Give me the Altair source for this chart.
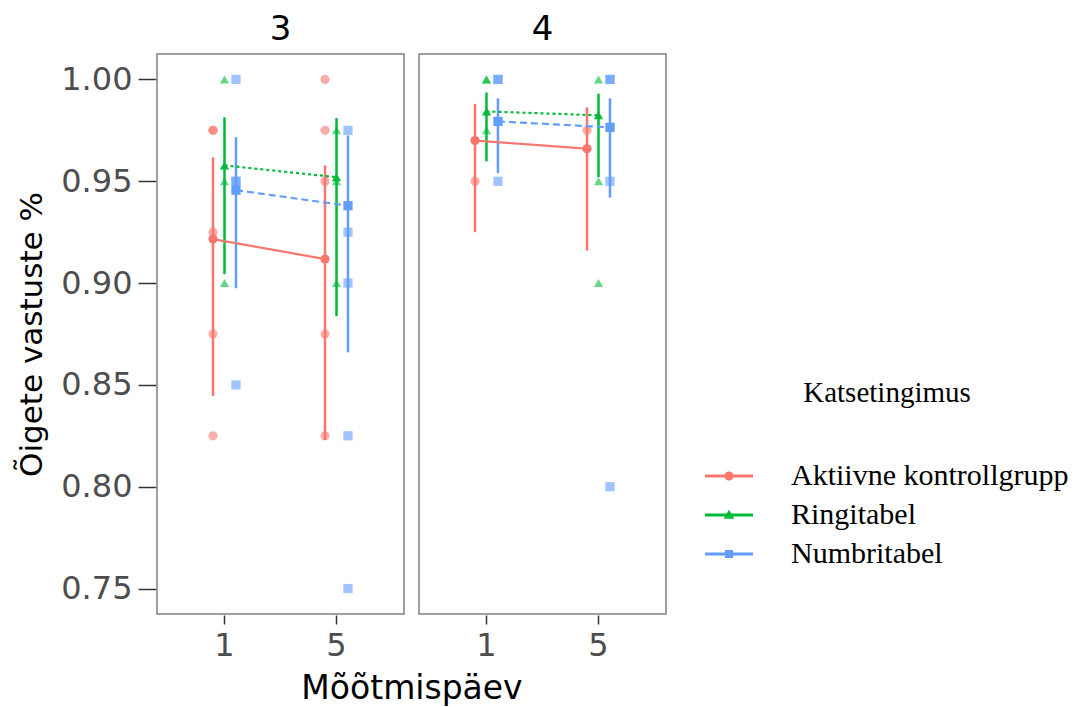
import altair as alt
import pandas as pd

groups = ["Aktiivne kontrollgrupp", "Ringitabel", "Numbritabel"]
panels = ["3", "4"]
days = ["1", "5"]
colors = ["#F8766D", "#00BA38", "#619CFF"]
shapes = ["circle", "triangle-up", "square"]
dashes = [[1, 0], [3, 3], [7, 4]]

# raw observations: (panel, day, group) -> values
raw = {
    ("3", "1", "Aktiivne kontrollgrupp"): [0.975, 0.975, 0.925, 0.875, 0.825],
    ("3", "1", "Ringitabel"): [1.00, 0.95, 0.90],
    ("3", "1", "Numbritabel"): [1.00, 0.95, 0.95, 0.85],
    ("3", "5", "Aktiivne kontrollgrupp"): [1.00, 0.975, 0.95, 0.875, 0.825],
    ("3", "5", "Ringitabel"): [0.975, 0.95, 0.90],
    ("3", "5", "Numbritabel"): [0.975, 0.925, 0.90, 0.825, 0.75],
    ("4", "1", "Aktiivne kontrollgrupp"): [0.95],
    ("4", "1", "Ringitabel"): [1.00, 1.00, 0.975],
    ("4", "1", "Numbritabel"): [1.00, 1.00, 0.95],
    ("4", "5", "Aktiivne kontrollgrupp"): [0.975],
    ("4", "5", "Ringitabel"): [1.00, 0.95, 0.90],
    ("4", "5", "Numbritabel"): [1.00, 1.00, 0.95, 0.80],
}

# means with interval: (panel, day, group) -> (mean, low, high)
means = {
    ("3", "1", "Aktiivne kontrollgrupp"): (0.9216, 0.8446, 0.9618),
    ("3", "1", "Ringitabel"): (0.9578, 0.9044, 0.9814),
    ("3", "1", "Numbritabel"): (0.9456, 0.8975, 0.9716),
    ("3", "5", "Aktiivne kontrollgrupp"): (0.9118, 0.8230, 0.9578),
    ("3", "5", "Ringitabel"): (0.9520, 0.8838, 0.9810),
    ("3", "5", "Numbritabel"): (0.9380, 0.8660, 0.9725),
    ("4", "1", "Aktiivne kontrollgrupp"): (0.9700, 0.9250, 0.9880),
    ("4", "1", "Ringitabel"): (0.9843, 0.9598, 0.9936),
    ("4", "1", "Numbritabel"): (0.9794, 0.9540, 0.9907),
    ("4", "5", "Aktiivne kontrollgrupp"): (0.9660, 0.9160, 0.9863),
    ("4", "5", "Ringitabel"): (0.9824, 0.9520, 0.9930),
    ("4", "5", "Numbritabel"): (0.9765, 0.9420, 0.9907),
}

shape_of = dict(zip(groups, shapes))
rows = []
for (p, d, g), vals in raw.items():
    for v in vals:
        rows.append(dict(panel=p, day=d, group=g, kind="raw", value=v, lo=None, hi=None, shp=shape_of[g]))
for (p, d, g), (m, lo, hi) in means.items():
    rows.append(dict(panel=p, day=d, group=g, kind="mean", value=m, lo=lo, hi=hi, shp=shape_of[g]))
df = pd.DataFrame(rows)

# legend symbols: line + marker (filled paths)
bar = "M-1,-0.065H1V0.065H-1Z"
legend_paths = [
    bar + " M-0.19,0 A0.19,0.19 0 1,1 0.19,0 A0.19,0.19 0 1,1 -0.19,0Z",
    bar + " M0,-0.22 L0.22,0.16 L-0.22,0.16Z",
    bar + " M-0.17,-0.17H0.17V0.17H-0.17Z",
]

sans = "DejaVu Sans"
serif = "Liberation Serif"

color_scale = alt.Scale(domain=groups, range=colors)
x_enc = alt.X(
    "day:N",
    scale=alt.Scale(domain=days, paddingInner=0.795, paddingOuter=0.5),
    axis=alt.Axis(title=None, labelAngle=0, tickSize=9, labelPadding=6),
)
xo_enc = alt.XOffset("group:N", scale=alt.Scale(domain=groups, type="point", padding=0))
y_scale = alt.Scale(domain=[0.7375, 1.0125], nice=False, zero=False)
y_axis = alt.Axis(
    values=[0.75, 0.80, 0.85, 0.90, 0.95, 1.00],
    format=".2f",
    title="Õigete vastuste %",
    tickSize=18,
    labelPadding=6,
    titlePadding=12,
)
col = alt.Color("group:N", scale=color_scale)

base = alt.Chart()

raw_layer = base.mark_point(filled=True, opacity=0.6, size=85).encode(
    x=x_enc, xOffset=xo_enc,
    y=alt.Y("value:Q", scale=y_scale, axis=y_axis),
    color=col,
    shape=alt.Shape("shp:N", scale=None),
).transform_filter(alt.datum.kind == "raw")

err_layer = base.mark_rule(strokeWidth=2.5).encode(
    x=x_enc, xOffset=xo_enc,
    y=alt.Y("lo:Q", scale=y_scale, axis=y_axis),
    y2="hi:Q",
    color=col,
).transform_filter(alt.datum.kind == "mean")

line_layers = [
    base.mark_line(strokeWidth=2.2, strokeDash=dash).encode(
        x=x_enc, xOffset=xo_enc,
        y=alt.Y("value:Q", scale=y_scale, axis=y_axis),
        color=col,
    ).transform_filter((alt.datum.kind == "mean") & (alt.datum.group == g))
    for g, dash in zip(groups, dashes)
]

mean_layer = base.mark_point(filled=True, opacity=1, size=85).encode(
    x=x_enc, xOffset=xo_enc,
    y=alt.Y("value:Q", scale=y_scale, axis=y_axis),
    color=col,
    shape=alt.Shape("shp:N", scale=None),
).transform_filter(alt.datum.kind == "mean")

leg = alt.Legend(
    title="Katsetingimus",
    orient="none",
    legendX=548,
    legendY=325,
    titleAnchor="middle",
    symbolSize=2300,
    symbolStrokeWidth=0,
    symbolOpacity=1,
    labelLimit=500,
)

legend_layer = base.mark_point(filled=True, opacity=0).encode(
    x=x_enc, xOffset=xo_enc,
    y=alt.Y("value:Q", scale=y_scale, axis=y_axis),
    color=alt.Color("group:N", scale=color_scale, legend=leg),
    shape=alt.Shape("group:N", scale=alt.Scale(domain=groups, range=legend_paths), legend=leg),
).transform_filter(alt.datum.kind == "mean")

layered = alt.layer(raw_layer, err_layer, *line_layers, mean_layer, legend_layer, data=df).properties(
    width=247, height=560
)

chart = layered.facet(
    column=alt.Column(
        "panel:N",
        sort=panels,
        header=alt.Header(
            title="Mõõtmispäev",
            titleOrient="bottom",
            labelOrient="top",
            labelFont=sans,
            labelFontSize=34,
            labelColor="black",
            labelPadding=6,
            titleFont=sans,
            titleFontSize=33,
            titleFontWeight="normal",
            titleColor="black",
            titlePadding=2,
        ),
    ),
    spacing=13,
).configure_view(
    stroke="#808080", strokeWidth=1.5
).configure_axis(
    domain=False,
    ticks=True,
    tickColor="#333333",
    tickWidth=1.5,
    grid=False,
    labelFont=sans,
    labelFontSize=32,
    labelColor="#4D4D4D",
    titleFont=sans,
    titleFontSize=31,
    titleFontWeight="normal",
    titleColor="black",
).configure_legend(
    titleFont=serif,
    titleFontSize=29,
    titleFontWeight="normal",
    titleColor="black",
    titlePadding=44,
    labelFont=serif,
    labelFontSize=30,
    labelColor="black",
    labelOffset=38,
    labelLimit=500,
    symbolOpacity=1,
    symbolStrokeWidth=0,
    rowPadding=-8,
).properties(
    padding={"left": 8, "top": 5, "right": 0, "bottom": 0}
)

chart.save("out.html", embed_options={"renderer": "svg", "actions": False})
